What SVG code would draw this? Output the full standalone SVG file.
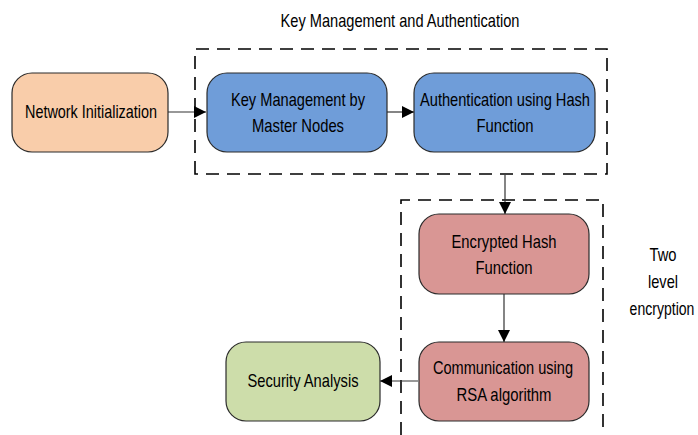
<svg xmlns="http://www.w3.org/2000/svg" width="698" height="435" viewBox="0 0 698 435">
<style>
text{font-family:"Liberation Sans Narrow","Liberation Sans",Arial,sans-serif;font-size:18.5px;fill:#000;text-anchor:middle}
.box{stroke:#2b2b2b;stroke-width:1.2}
.orange{fill:#F9CDAA}.blue{fill:#6F9DD9}.red{fill:#D99694}.green{fill:#CDDDAA}
.dash{fill:none;stroke:#000;stroke-width:1.6;stroke-dasharray:13 8}
.conn{stroke:#333;stroke-width:1.2;fill:none;marker-end:url(#ah)}
</style>
<defs>
<marker id="ah" viewBox="0 0 10 10" refX="10" refY="5" markerWidth="12" markerHeight="12" markerUnits="userSpaceOnUse" orient="auto">
<path d="M0,0 L10,5 L0,10 Z" fill="#000"/>
</marker>
</defs>
<rect x="0" y="0" width="698" height="435" fill="#fff"/>
<g id="group-key-auth">
<path class="dash" d="M195,174 L195,49 L607,49 L607,174 Z"/>
<text x="400" y="27" textLength="239" lengthAdjust="spacingAndGlyphs">Key Management and Authentication</text>
</g>
<g id="group-two-level">
<path class="dash" d="M401,435 L401,200 L603,200 L603,435"/>
<text x="663" y="261" textLength="27" lengthAdjust="spacingAndGlyphs">Two</text>
<text x="663" y="288" textLength="30" lengthAdjust="spacingAndGlyphs">level</text>
<text transform="translate(662,315) scale(0.76,1)" x="0" y="0">encryption</text>
</g>
<g id="connectors">
<line class="conn" x1="168" y1="112" x2="206" y2="112"/>
<line class="conn" x1="387" y1="112" x2="414" y2="112"/>
<line class="conn" x1="505" y1="175" x2="505" y2="214"/>
<line class="conn" x1="504" y1="294" x2="504" y2="342"/>
<line class="conn" x1="418" y1="381" x2="380" y2="381"/>
</g>
<g id="node-network-init">
<rect class="box orange" x="12" y="73" width="156" height="79" rx="20"/>
<text x="91" y="118" textLength="132" lengthAdjust="spacingAndGlyphs">Network Initialization</text>
</g>
<g id="node-key-mgmt">
<rect class="box blue" x="207" y="73" width="180" height="79" rx="20"/>
<text x="298" y="106" textLength="134" lengthAdjust="spacingAndGlyphs">Key Management by</text>
<text x="298" y="132" textLength="92" lengthAdjust="spacingAndGlyphs">Master Nodes</text>
</g>
<g id="node-authentication">
<rect class="box blue" x="414" y="73" width="181" height="79" rx="20"/>
<text x="505" y="106" textLength="170" lengthAdjust="spacingAndGlyphs">Authentication using Hash</text>
<text x="505" y="132" textLength="57" lengthAdjust="spacingAndGlyphs">Function</text>
</g>
<g id="node-encrypted-hash">
<rect class="box red" x="419" y="214" width="170" height="80" rx="20"/>
<text x="504" y="248" textLength="105" lengthAdjust="spacingAndGlyphs">Encrypted Hash</text>
<text x="504" y="274" textLength="57" lengthAdjust="spacingAndGlyphs">Function</text>
</g>
<g id="node-communication">
<rect class="box red" x="419" y="342" width="170" height="79" rx="20"/>
<text x="503" y="374" textLength="140" lengthAdjust="spacingAndGlyphs">Communication using</text>
<text x="504" y="401" textLength="95" lengthAdjust="spacingAndGlyphs">RSA algorithm</text>
</g>
<g id="node-security">
<rect class="box green" x="226" y="342" width="154" height="79" rx="20"/>
<text x="303" y="387" textLength="111" lengthAdjust="spacingAndGlyphs">Security Analysis</text>
</g>
</svg>
